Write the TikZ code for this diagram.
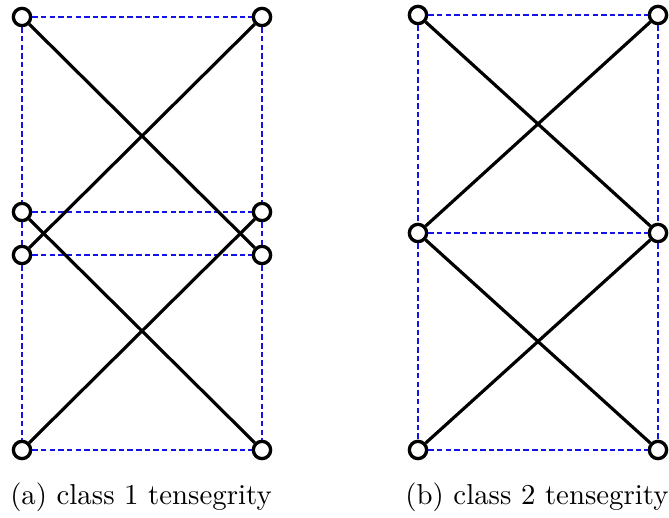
\documentclass[tikz,border=0pt]{standalone}
\usepackage{xcolor}
\usepackage{tikz}
\usetikzlibrary{positioning}
\definecolor{cableblue}{RGB}{20,20,230}
\tikzset{
  joint/.style={circle, draw=black, fill=white, inner sep=0pt,
    minimum size=6pt, line width=1.15pt},
  bar/.style={line width=1.1pt, color=black},
  cable/.style={line width=0.4pt, color=cableblue, dash pattern=on 1.9pt off 1.1pt},
  caption/.style={font=\normalsize, anchor=base}
}

\begin{document}
\begin{tikzpicture}[x=0.347pt, y=-0.347pt]
  \useasboundingbox (0,0) rectangle (669,518);
  % Joints, class 1
  \node[joint] (aTL) at (22,17) {};
  \node[joint] (aTR) at (262,17) {};
  \node[joint] (aUL) at (22,212) {};
  \node[joint] (aUR) at (262,212) {};
  \node[joint] (aLL) at (22,255) {};
  \node[joint] (aLR) at (262,255) {};
  \node[joint] (aBL) at (22,450) {};
  \node[joint] (aBR) at (262,450) {};

  % Joints, class 2
  \node[joint] (bTL) at (418,15) {};
  \node[joint] (bTR) at (658,15) {};
  \node[joint] (bML) at (418,233) {};
  \node[joint] (bMR) at (658,233) {};
  \node[joint] (bBL) at (418,450) {};
  \node[joint] (bBR) at (658,450) {};

  % Cables
  \draw[cable] (aTL) -- (aTR);
  \draw[cable] (aUL) -- (aUR);
  \draw[cable] (aLL) -- (aLR);
  \draw[cable] (aBL) -- (aBR);
  \draw[cable] (aTL) -- (aUL);
  \draw[cable] (aUL) -- (aLL);
  \draw[cable] (aLL) -- (aBL);
  \draw[cable] (aTR) -- (aUR);
  \draw[cable] (aUR) -- (aLR);
  \draw[cable] (aLR) -- (aBR);

  \draw[cable] (bTL) -- (bTR);
  \draw[cable] (bML) -- (bMR);
  \draw[cable] (bBL) -- (bBR);
  \draw[cable] (bTL) -- (bML);
  \draw[cable] (bML) -- (bBL);
  \draw[cable] (bTR) -- (bMR);
  \draw[cable] (bMR) -- (bBR);

  % Bars
  \draw[bar] (aTL) -- (aLR);
  \draw[bar] (aTR) -- (aLL);
  \draw[bar] (aUL) -- (aBR);
  \draw[bar] (aUR) -- (aBL);

  \draw[bar] (bTL) -- (bMR);
  \draw[bar] (bTR) -- (bML);
  \draw[bar] (bML) -- (bBR);
  \draw[bar] (bMR) -- (bBL);

  % Captions
  \node[caption] (capa) at (141,505) {(a) class 1 tensegrity};
  \node[caption] (capb) at (537,505) {(b) class 2 tensegrity};
\end{tikzpicture}
\end{document}
